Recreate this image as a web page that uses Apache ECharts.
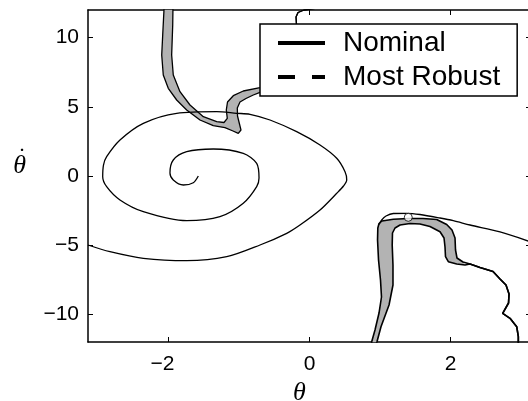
<!DOCTYPE html>
<html>
<head>
<meta charset="utf-8">
<script src="https://cdn.jsdelivr.net/npm/echarts@6/dist/echarts.min.js"></script>
<style>
html,body{margin:0;padding:0;background:#fff;}
#chart{width:528px;height:401px;}
</style>
</head>
<body>
<div id="chart"></div>
<script>
// ---- tick labels ----
const thetaTicks = [-2, 0, 2];
const thetaDotTicks = [-10, -5, 0, 5, 10];
const seriesNames = ['Nominal', 'Most Robust'];

// ---- swing-up trajectory (theta, theta-dot) ----
const trajectoryLeft = [
  [-1.577,0.000],[-1.648,-0.484],[-1.790,-0.651],[-1.932,-0.289],[-1.979,0.217],[-1.932,1.157],
  [-1.742,1.757],[-1.365,1.952],[-0.939,1.641],[-0.749,0.918],[-0.716,-0.145],[-0.749,-0.774],
  [-0.939,-1.974],[-1.270,-2.942],[-1.742,-3.231],[-2.357,-2.581],[-2.688,-1.735],[-2.877,-0.774],
  [-2.933,-0.051],[-2.922,0.795],[-2.877,1.395],[-2.688,2.602],[-2.357,3.810],[-1.884,4.533],
  [-1.316,4.648],[-1.033,4.533],[-0.844,4.460],[-0.560,4.048],[-0.182,3.203],[0.149,2.241],
  [0.386,1.280],[0.504,0.311],[0.528,-0.289],[0.482,-0.723],[0.386,-1.251],[0.149,-2.458],
  [-0.135,-3.542],[-0.323,-4.142],[-0.702,-4.988],[-1.174,-5.834],[-1.742,-6.123],[-2.357,-5.950],
  [-2.830,-5.472],[-3.142,-4.988]
];
const trajectoryRight = [
  [3.142,-4.771],[2.702,-4.048],[2.277,-3.542],[2.040,-3.231],[1.851,-3.036],[1.567,-2.783],
  [1.379,-2.697],[1.189,-2.711],[1.085,-2.892],[1.024,-3.181],[0.986,-3.506]
];
const initialState = [[1.401,-2.986]];

// ---- upper funnel boundaries ----
const upperNominal = [
  [-2.064,12.36],[-2.064,12.0],[-2.082,10.193],[-2.096,8.747],[-2.074,7.301],[-2.003,6.340],
  [-1.884,5.494],[-1.742,4.771],[-1.553,4.048],[-1.365,3.636],[-1.199,3.492],[-1.085,3.253],
  [-1.010,3.087],[-0.972,3.325],[-0.993,3.759],[-1.021,4.337],[-1.024,4.916],[-0.986,5.349],
  [-0.901,5.603],[-0.797,5.856],[-0.702,6.051],[-0.489,6.434],[-0.300,8.0],[-0.215,9.832],
  [-0.184,10.916],[-0.191,11.494],[-0.163,11.82],[-0.078,12.0],[0.078,12.11]
];
const upperRobust = [
  [-1.936,12.36],[-1.940,10.916],[-1.955,8.747],[-1.932,7.301],[-1.837,6.094],[-1.695,5.133],
  [-1.506,4.287],[-1.316,3.925],[-1.213,3.868],[-1.166,4.171],[-1.180,4.771],[-1.163,5.349],
  [-1.081,5.805],[-0.939,6.145],[-0.702,6.383],[-0.489,6.940],[-0.305,8.386],[-0.220,9.832],
  [-0.184,10.916],[-0.191,11.494],[-0.163,11.82],[-0.078,12.0],[0.078,12.11]
];

// ---- lower funnel boundaries ----
const lowerNominal = [
  [0.882,-12.22],[0.882,-11.98],[0.929,-11.133],[0.986,-9.904],[1.021,-8.747],[1.007,-7.518],
  [0.979,-6.072],[0.965,-4.627],[0.969,-3.759],[0.986,-3.434],[1.028,-3.253],[1.189,-3.130],
  [1.401,-3.072],[1.610,-3.072],[1.804,-3.145],[1.946,-3.506],[2.021,-3.904],[2.064,-4.482],
  [2.071,-5.35],[2.092,-5.928],[2.177,-6.217]
];
const lowerRobust = [
  [0.943,-12.22],[0.957,-11.98],[1.014,-10.894],[1.128,-9.325],[1.184,-7.880],[1.184,-6.434],
  [1.173,-4.988],[1.177,-4.121],[1.213,-3.759],[1.284,-3.542],[1.426,-3.434],[1.567,-3.470],
  [1.709,-3.651],[1.851,-4.027],[1.908,-4.482],[1.922,-5.133],[1.929,-5.834],[1.969,-6.195],
  [2.088,-6.361],[2.206,-6.434]
];
const lowerMergedTail = [
  [2.277,-6.361],[2.418,-6.615],[2.603,-6.904],[2.702,-7.446],[2.787,-7.88],[2.830,-8.53],
  [2.823,-9.181],[2.740,-9.926],[2.844,-10.287],[2.939,-10.894],[2.962,-11.617],[2.962,-12.22]
];

// ---- build options ----
// the shaded part of the upper funnel ends under the legend box
const upperFill = upperNominal.slice(0, upperNominal.findIndex(function (p) { return p[0] > -0.3; }) + 1)
  .concat(upperRobust.slice(0, upperRobust.findIndex(function (p) { return p[0] > -0.32; }) + 1).reverse());
const lowerFill = lowerNominal.concat(lowerRobust.slice().reverse());

function fillSeries(poly) {
  return {
    type: 'custom', silent: true, clip: true, z: 1,
    data: poly, encode: { x: 0, y: 1 },
    renderItem: function (params, api) {
      if (params.dataIndex !== 0) return null;
      return {
        type: 'polygon',
        shape: { points: poly.map(function (p) { return api.coord(p); }) },
        style: { fill: '#b3b3b3', stroke: null }
      };
    }
  };
}
function lineSeries(name, data, smooth, width) {
  return {
    name: name, type: 'line', data: data, symbol: 'none', showSymbol: false,
    smooth: smooth, silent: true, z: 3, clip: true,
    lineStyle: { color: '#000', width: width || 1.3, type: 'solid' },
    itemStyle: { color: '#000' }
  };
}
const minus = function (v) { return String(v).replace('-', '\u2212'); };
const tickFont = { fontFamily: 'Liberation Sans, Arial, sans-serif', fontSize: 21, color: '#000' };
const nameFont = { fontFamily: 'Liberation Serif, Times New Roman, serif', fontStyle: 'italic', fontSize: 26, color: '#000' };

function boxAxis(extra) {
  return Object.assign({
    type: 'value',
    axisLine: { show: true, onZero: false, lineStyle: { color: '#000', width: 1.5 } },
    splitLine: { show: false }
  }, extra);
}

const option = {
  animation: false,
  backgroundColor: '#fff',
  grid: { left: 88, top: 10, width: 443, height: 332, outerBoundsMode: 'none' },
  legend: {
    orient: 'vertical', left: 260, top: 24,
    data: [
      { name: seriesNames[0], itemStyle: { opacity: 0 }, lineStyle: { width: 4, type: 'solid', color: '#000' } },
      { name: seriesNames[1], itemStyle: { opacity: 0 }, lineStyle: { width: 4, type: [17, 17], color: '#000' } }
    ],
    itemWidth: 47, itemHeight: 2, itemGap: 4,
    backgroundColor: '#fff', borderColor: '#000', borderWidth: 1.5, borderRadius: 0,
    padding: [4, 17, 4, 16],
    selectedMode: false,
    textStyle: { fontFamily: 'Liberation Sans, Arial, sans-serif', fontSize: 28, color: '#000', lineHeight: 30, padding: [0, 0, 0, 13] }
  },
  xAxis: [
    boxAxis({
      min: -Math.PI, max: Math.PI, position: 'bottom',
      name: '\u03b8', nameLocation: 'middle', nameGap: 36,
      nameTextStyle: Object.assign({ padding: [0, 20, 0, 0] }, nameFont),
      axisTick: { show: true, inside: true, length: 5, customValues: thetaTicks, lineStyle: { color: '#000', width: 1 } },
      axisLabel: Object.assign({
        customValues: thetaTicks, margin: 12,
        formatter: function (v) { return v < 0 ? '{neg|' + minus(v) + '}' : minus(v); },
        rich: { neg: Object.assign({ padding: [0, 12, 0, 0] }, tickFont) }
      }, tickFont)
    }),
    boxAxis({
      min: -Math.PI, max: Math.PI, position: 'top',
      axisTick: { show: true, inside: true, length: 5, customValues: thetaTicks, lineStyle: { color: '#000', width: 1 } },
      axisLabel: { show: false }
    })
  ],
  yAxis: [
    boxAxis({
      min: -12, max: 12, position: 'left',
      name: '{d|\u02d9}\n{t|\u03b8}\n{s| }', nameLocation: 'middle', nameGap: 62, nameRotate: 0,
      nameTextStyle: Object.assign({
        rich: {
          d: Object.assign({}, nameFont, { fontStyle: 'normal', fontSize: 24, lineHeight: 2 }),
          t: Object.assign({}, nameFont, { lineHeight: 14 }),
          s: Object.assign({}, nameFont, { lineHeight: 22 })
        }
      }, nameFont),
      axisTick: { show: true, inside: true, length: 5, customValues: thetaDotTicks, lineStyle: { color: '#000', width: 1 } },
      axisLabel: Object.assign({ customValues: thetaDotTicks, margin: 9, formatter: minus }, tickFont)
    }),
    boxAxis({
      min: -12, max: 12, position: 'right',
      axisTick: { show: true, inside: true, length: 5, customValues: thetaDotTicks, lineStyle: { color: '#000', width: 1 } },
      axisLabel: { show: false }
    })
  ],
  series: [
    fillSeries(upperFill),
    fillSeries(lowerFill),
    lineSeries(seriesNames[0], trajectoryLeft, 0.3),
    lineSeries(seriesNames[0], trajectoryRight, 0.3),
    lineSeries(seriesNames[0], upperNominal, false),
    lineSeries(seriesNames[0], lowerNominal.concat(lowerMergedTail), false, 1.6),
    lineSeries(seriesNames[1], upperRobust, false),
    lineSeries(seriesNames[1], lowerRobust.concat(lowerMergedTail), false, 1.6),
    {
      name: 'Initial state', type: 'scatter', data: initialState, symbol: 'circle', symbolSize: 8,
      silent: true, z: 4,
      itemStyle: { color: '#fff', borderColor: '#000', borderWidth: 1 }
    }
  ]
};
const chart = echarts.init(document.getElementById('chart'), null, { renderer: 'canvas' });
chart.setOption(option);
</script>
</body>
</html>
